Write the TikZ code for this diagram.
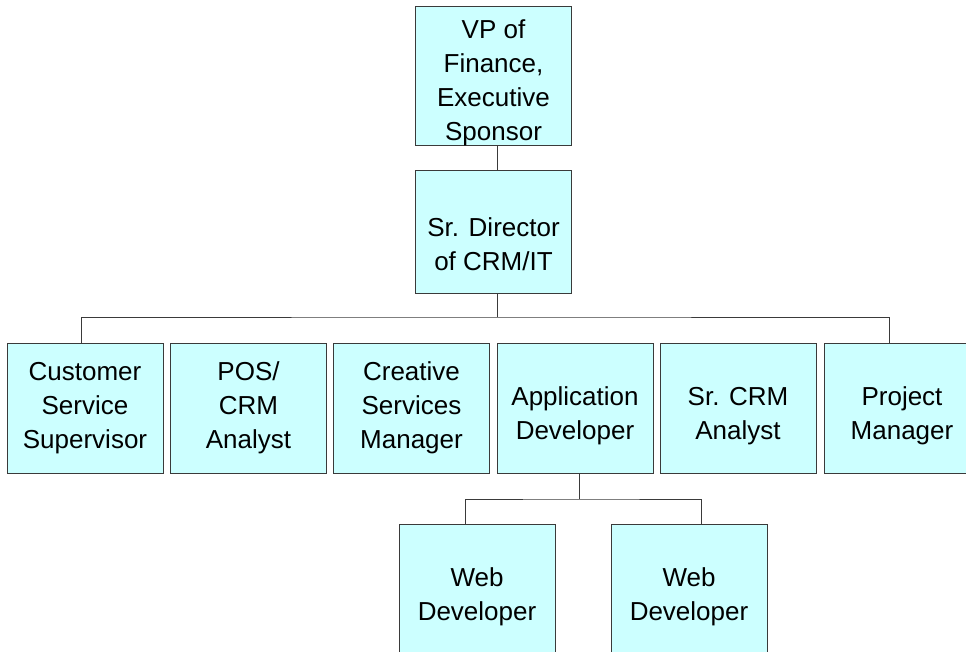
\documentclass[tikz,border=0pt]{standalone}
\usepackage{fontspec}
\setmainfont{Liberation Sans}
\usetikzlibrary{positioning}
\definecolor{boxcyan}{HTML}{CCFFFF}
\definecolor{edgegrey}{HTML}{3A3A3A}
\tikzset{
  org text/.style={font=\fontsize{26}{34}\selectfont, align=center, inner sep=0pt},
  org/.style={draw=edgegrey, fill=boxcyan, line width=1pt, org text, minimum width=156pt},
  org row/.style={org, minimum height=130pt},
  org link/.style={draw=edgegrey, line width=1pt},
}
\begin{document}
\begin{tikzpicture}[x=1pt, y=-1pt]
  \useasboundingbox (0,0) rectangle (966,652);
  \clip (0,0) rectangle (966,652);
  % top of the chart
  \node[org, minimum height=139pt, label={[org text, yshift=-6.5pt]center:{VP of\\Finance,\\Executive\\Sponsor}}] (vp) at (493.5,76.5) {};
  \node[org, minimum height=122pt, label={[org text, yshift=-12pt]center:{Sr. Director\\of CRM/IT}}] (dir) at (493.5,232) {};
  % row of direct reports
  \node[org row] (css) at (85,408) {Customer\\Service\\Supervisor};
  \node[org row] (pos) at (248.5,408) {POS/\\CRM\\Analyst};
  \node[org row] (csm) at (411.5,408) {Creative\\Services\\Manager};
  \node[org row, label={[org text, yshift=-8pt]center:{Application\\Developer}}] (adv) at (575,408) {};
  \node[org row, label={[org text, yshift=-8pt]center:{Sr. CRM\\Analyst}}] (scrm) at (738,408) {};
  \node[org row, label={[org text, yshift=-8pt]center:{Project\\Manager}}] (pm) at (902,408) {};
  % under the application developer
  \node[org row, label={[org text, yshift=-8pt]center:{Web\\Developer}}] (wd1) at (477,589) {};
  \node[org row, label={[org text, yshift=-8pt]center:{Web\\Developer}}] (wd2) at (689,589) {};
  % connectors
  \coordinate (hub) at (497,317);
  \coordinate (sub) at (579,499);
  \draw[org link] ([xshift=3.5pt]vp.south) -- ([xshift=3.5pt]dir.north);
  \draw[org link] ([xshift=3.5pt]dir.south) -- (hub);
  \draw[org link] ([xshift=-4pt]css.north) |- (hub) -| ([xshift=-13pt]pm.north);
  \draw[org link] ([xshift=4pt]adv.south) -- (sub);
  \draw[org link] ([xshift=-12pt]wd1.north) |- (sub) -| ([xshift=12pt]wd2.north);
\end{tikzpicture}
\end{document}
